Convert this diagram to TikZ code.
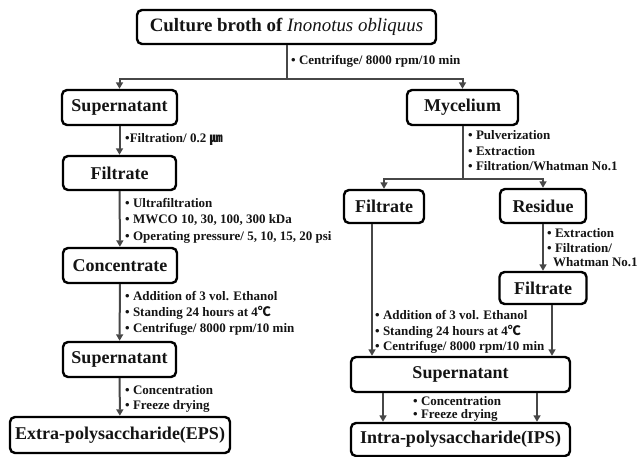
\documentclass[tikz,border=0pt]{standalone}
\usepackage{fontspec}
\setmainfont{Liberation Serif}
\newfontfamily\cjk{Noto Sans CJK KR}
\usetikzlibrary{arrows.meta}
\begin{document}
\begin{tikzpicture}[x=1pt,y=-1pt,
  box/.style={draw=black,line width=2.4pt,rounded corners=5pt,fill=white,inner sep=0pt,
    font=\fontsize{18}{20}\selectfont\bfseries,text=black!92},
  conn/.style={draw=black!72,line width=2pt},
  arr/.style={conn,-{Triangle[width=7pt,length=6.5pt]}},
  lab/.style={anchor=west,inner sep=0pt,font=\fontsize{13}{15}\selectfont\bfseries,text=black!92}]
\useasboundingbox (0,0) rectangle (638,457);

% boxes
\node[box,minimum width=299pt,minimum height=34pt,font=\fontsize{18.9}{21}\selectfont\bfseries] (top) at (286.5,27) {Culture broth of \textit{\mdseries Inonotus obliquus}};
\node[box,minimum width=115pt,minimum height=35pt] (sup1) at (119.5,107.5) {Supernatant};
\node[box,minimum width=111pt,minimum height=35pt] (myc) at (462.5,107.5) {Mycelium};
\node[box,minimum width=113pt,minimum height=34pt] (filt1) at (119.5,173) {Filtrate};
\node[box,minimum width=114pt,minimum height=35pt] (conc) at (120,265.5) {Concentrate};
\node[box,minimum width=113pt,minimum height=35pt] (sup2) at (119.5,359.5) {Supernatant};
\node[box,minimum width=220pt,minimum height=36pt] (eps) at (120,435) {Extra-polysaccharide(EPS)};
\node[box,minimum width=80pt,minimum height=33pt] (filtR) at (384,206.5) {Filtrate};
\node[box,minimum width=86pt,minimum height=34pt] (res) at (543,206) {Residue};
\node[box,minimum width=87pt,minimum height=32pt] (filt2) at (543,288) {Filtrate};
\node[box,minimum width=219pt,minimum height=35pt] (sup3) at (460.5,374.5) {Supernatant};
\node[box,minimum width=219pt,minimum height=33pt] (ips) at (460.5,439.5) {Intra-polysaccharide(IPS)};

% connectors
\coordinate (j1) at (286.5,79);
\draw[arr] (top.south) -- (j1) -| (sup1.north);
\draw[arr] (j1) -| (myc.north);
\draw[arr] (sup1) -- (filt1);
\draw[arr] (filt1) -- (conc);
\draw[arr] (conc) -- (sup2);
\draw[arr] (sup2) -- (eps);
\coordinate (j2) at (462.5,179);
\draw[arr] (myc.south) -- (j2) -| (filtR.north);
\draw[arr] (j2) -| (res.north);
\draw[arr] (res) -- (filt2);
\draw[arr] ([xshift=-12pt]filtR.south) -- ([xshift=-12pt]filtR.south |- sup3.north);
\draw[arr] ([xshift=9pt]filt2.south) -- ([xshift=9pt]filt2.south |- sup3.north);
\draw[arr] ([xshift=-77.5pt]sup3.south) -- ([xshift=-77.5pt]sup3.south |- ips.north);
\draw[arr] ([xshift=76.5pt]sup3.south) -- ([xshift=76.5pt]sup3.south |- ips.north);

% labels
\node[lab] (l1) at (291,61) {• Centrifuge/ 8000 rpm/10 min};
\node[lab] (l2) at (125,139) {•Filtration/ 0.2 {\cjk ㎛}};
\node[lab] (l3) at (125,203) {• Ultrafiltration};
\node[lab] (l4) at (125,220) {• MWCO 10, 30, 100, 300 kDa};
\node[lab] (l5) at (125,237) {• Operating pressure/ 5, 10, 15, 20 psi};
\node[lab] (l6) at (125,296) {• Addition of 3 vol. Ethanol};
\node[lab] (l7) at (125,312.5) {• Standing 24 hours at 4{\cjk ℃}};
\node[lab] (l8) at (125,329) {• Centrifuge/ 8000 rpm/10 min};
\node[lab] (l9) at (125,390) {• Concentration};
\node[lab] (l10) at (125,406) {• Freeze drying};
\node[lab] (r1) at (468,135) {• Pulverization};
\node[lab] (r2) at (468,151) {• Extraction};
\node[lab] (r3) at (468,166.5) {• Filtration/Whatman No.1};
\node[lab] (r4) at (547,233) {• Extraction};
\node[lab] (r5) at (547,248.5) {• Filtration/};
\node[lab] (r6) at (553,262) {Whatman No.1};
\node[lab] (r7) at (375,315) {• Addition of 3 vol. Ethanol};
\node[lab] (r8) at (375,331.5) {• Standing 24 hours at 4{\cjk ℃}};
\node[lab] (r9) at (375,347.5) {• Centrifuge/ 8000 rpm/10 min};
\node[lab] (r10) at (413,401) {• Concentration};
\node[lab] (r11) at (413,415) {• Freeze drying};
\end{tikzpicture}
\end{document}
